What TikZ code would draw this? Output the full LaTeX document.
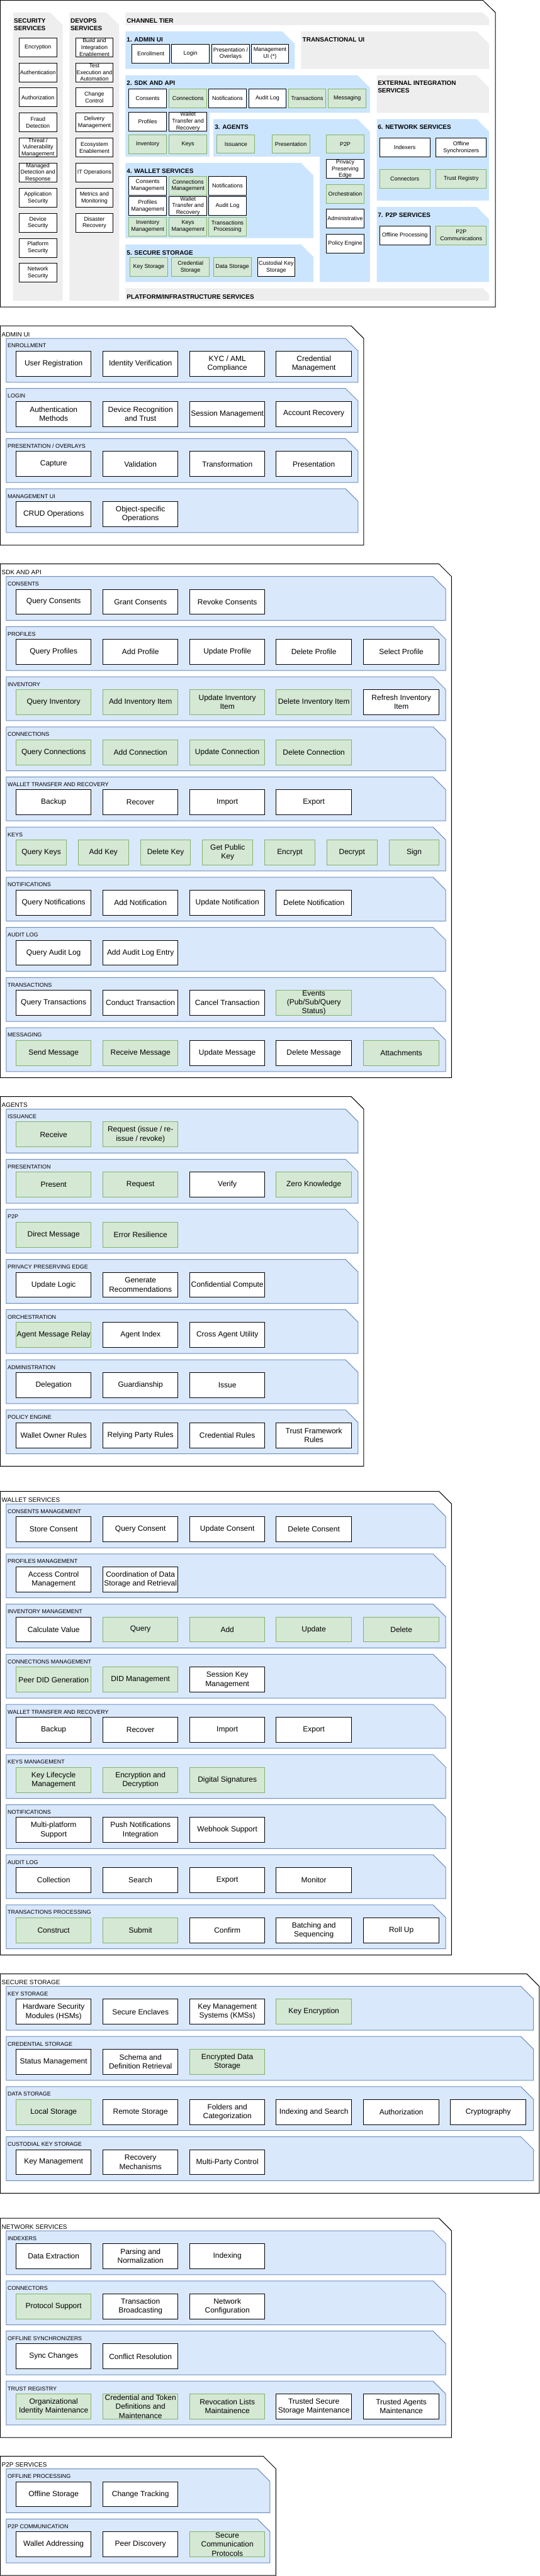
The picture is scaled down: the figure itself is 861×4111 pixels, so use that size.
\documentclass[tikz,border=0pt]{standalone}
\usepackage{fontspec}
\setmainfont{Liberation Sans}
\definecolor{tier gray}{HTML}{EEEEEE}
\definecolor{tier blue}{HTML}{CCE5FF}
\definecolor{group fill}{HTML}{DAE8FC}
\definecolor{group line}{HTML}{6C8EBF}
\definecolor{green fill}{HTML}{D5E8D4}
\definecolor{green line}{HTML}{82B366}
\tikzset{
    x={1pt},
    y={-1pt},
    tier background/.style={
        fill={#1},
        draw=none,
    },
    tier background/.default={tier gray},
    tier title/.style={
        font={\bfseries\fontsize{10}{12}\selectfont},
        anchor=north west,
        align=left,
        inner sep=0pt,
    },
    tile/.style={
        draw=black, fill=white,
        line width={1pt},
        anchor=north west,
        align=center,
        inner xsep=1pt, inner ysep=0pt,
        minimum width={60},
        minimum height={30},
        font={\fontsize{9}{10.8}\selectfont},
    },
    green tile/.style={
        tile, fill=green fill, draw=green line,
    },
    wide tile/.style={
        tile, minimum width={80},
    },
    wide green tile/.style={
        green tile, minimum width={80},
    },
    section frame/.style={
        draw=black, fill=white,
        line width={1pt},
    },
    section label/.style={
        anchor=base west,
        inner sep=0pt,
        font={\fontsize{10}{12}\selectfont},
    },
    group/.style={
        fill=group fill, draw=group line,
        line width={1pt},
    },
    group label/.style={
        anchor=base west,
        inner sep=0pt,
        font={\fontsize{9}{10.8}\selectfont},
    },
    item/.style={
        tile,
        minimum width={120},
        minimum height={40},
        font={\fontsize{12}{14.4}\selectfont},
    },
    green item/.style={
        item, fill=green fill, draw=green line,
    },
    key item/.style={
        green item, minimum width={80},
    },
}

\begin{document}
\begin{tikzpicture}
\useasboundingbox (0,0) rectangle (861,4111);
% overview
\path[section frame] (0.5,0.5) -- (770,0.5) -- (790,20) -- (790,490) -- (0.5,490) -- cycle;
\path[tier background] (20.7,20) -- (80,20) -- (100,40) -- (100,480) -- (20.7,480) -- cycle;
\node[tier title] (sec-title) at (22,29.3) {SECURITY\\SERVICES};
\node[tile] (sec-enc) at (30,60) {Encryption};
\node[tile] (sec-authn) at (30,100) {Authentication};
\node[tile] (sec-authz) at (30,140) {Authorization};
\node[tile] (sec-fraud) at (30,180) {Fraud\\Detection};
\node[tile] (sec-threat) at (30,220) {Threat /\\Vulnerability\\Management};
\node[tile] (sec-mdr) at (30,260) {Managed\\Detection and\\Response};
\node[tile] (sec-app) at (30,300) {Application\\Security};
\node[tile] (sec-device) at (30,340) {Device\\Security};
\node[tile] (sec-platform) at (30,380) {Platform\\Security};
\node[tile] (sec-network) at (30,420) {Network\\Security};
\path[tier background] (110.7,20) -- (170,20) -- (190,40) -- (190,480) -- (110.7,480) -- cycle;
\node[tier title] (dev-title) at (112.3,29.3) {DEVOPS\\SERVICES};
\node[tile] (dev-build) at (120,60) {Build and\\Integration\\Enablement};
\node[tile] (dev-test) at (120,100) {Test\\Execution and\\Automation};
\node[tile] (dev-change) at (120,140) {Change\\Control};
\node[tile] (dev-delivery) at (120,180) {Delivery\\Management};
\node[tile] (dev-eco) at (120,220) {Ecosystem\\Enablement};
\node[tile] (dev-itops) at (120,260) {IT Operations};
\node[tile] (dev-metrics) at (120,300) {Metrics and\\Monitoring};
\node[tile] (dev-dr) at (120,340) {Disaster\\Recovery};
\path[tier background] (200,20) -- (770,20) -- (780,30) -- (780,40) -- (200,40) -- cycle;
\node[tier title] (channel-title) at (202,29.3) {CHANNEL TIER};
% 1. admin ui
\path[tier background={tier blue}] (200,50) -- (450,50) -- (470,70) -- (470,110) -- (200,110) -- cycle;
\node[tier title] (ov-admin-title) at (202,59.3) {1. ADMIN UI};
\node[tile] (ov-enroll) at (210,70) {Enrollment};
\node[tile] (ov-login) at (273.3,70) {Login};
\node[tile] (ov-overlays) at (337.3,70) {Presentation /\\Overlays};
\node[tile] (ov-mgmt-ui) at (400,70) {Management\\UI (*)};
\path[tier background] (480,50) -- (760,50) -- (780,70) -- (780,110) -- (480,110) -- cycle;
\node[tier title] (trans-ui-title) at (482.3,59.3) {TRANSACTIONAL UI};
% 2. sdk and api
\path[tier background={tier blue}] (200,120) -- (570,120) -- (590,140) -- (590,180) -- (334,180) -- (334,250) -- (200,250) -- cycle;
\node[tier title] (ov-sdk-title) at (202,129.3) {2. SDK AND API};
\node[tile] (ov-sdk-consents) at (205,141.7) {Consents};
\node[green tile] (ov-sdk-connections) at (269.3,141.7) {Connections};
\node[tile] (ov-sdk-notifications) at (332.3,141.7) {Notifications};
\node[tile] (ov-sdk-audit) at (396,141.7) {Audit Log};
\node[green tile] (ov-sdk-transactions) at (459.3,141.7) {Transactions};
\node[green tile] (ov-sdk-messaging) at (523.3,141.7) {Messaging};
\node[tile] (ov-sdk-profiles) at (205,178.3) {Profiles};
\node[tile] (ov-sdk-transfer) at (269.3,178.3) {Wallet\\Transfer and\\Recovery};
\node[green tile] (ov-sdk-inventory) at (205,215) {Inventory};
\node[green tile] (ov-sdk-keys) at (269.3,215) {Keys};
\path[tier background] (600.7,120) -- (760,120) -- (780,140) -- (780,180) -- (600.7,180) -- cycle;
\node[tier title] (ext-title) at (602.3,129.3) {EXTERNAL INTEGRATION\\SERVICES};
% 3. agents
\path[tier background={tier blue}] (340,190) -- (570,190) -- (590,210) -- (590,450) -- (510,450) -- (510,250) -- (340,250) -- cycle;
\node[tier title] (ov-agents-title) at (342.3,199.3) {3. AGENTS};
\node[green tile] (ov-issuance) at (345.7,214.3) {Issuance};
\node[green tile] (ov-presentation) at (433.3,214.3) {Presentation};
\node[green tile] (ov-p2p) at (520,214.3) {P2P};
\node[tile] (ov-edge) at (520,254.3) {Privacy\\Preserving\\Edge};
\node[green tile] (ov-orchestration) at (520,294.3) {Orchestration};
\node[tile] (ov-administrative) at (520,333.3) {Administrative};
\node[tile] (ov-policy) at (520,373.3) {Policy Engine};
% 6. network services
\path[tier background={tier blue}] (600.7,190) -- (760,190) -- (780,210) -- (780,320) -- (600.7,320) -- cycle;
\node[tier title] (ov-network-title) at (602.3,199.3) {6. NETWORK SERVICES};
\node[wide tile] (ov-indexers) at (605,220) {Indexers};
\node[wide tile] (ov-offline-sync) at (695,220) {Offline\\Synchronizers};
\node[wide green tile] (ov-connectors) at (605,270) {Connectors};
\node[wide green tile] (ov-trust) at (695,270) {Trust Registry};
% 4. wallet services
\path[tier background={tier blue}] (200,260) -- (480,260) -- (500,280) -- (500,380) -- (200,380) -- cycle;
\node[tier title] (ov-wallet-title) at (202,269.3) {4. WALLET SERVICES};
\node[tile] (ov-w-consents) at (205,280.7) {Consents\\Management};
\node[green tile] (ov-w-connections) at (269.3,280.7) {Connections\\Management};
\node[tile] (ov-w-notifications) at (332.3,280.7) {Notifications};
\node[tile] (ov-w-profiles) at (205,313.3) {Profiles\\Management};
\node[tile] (ov-w-transfer) at (269.3,313.3) {Wallet\\Transfer and\\Recovery};
\node[tile] (ov-w-audit) at (332.3,313.3) {Audit Log};
\node[green tile] (ov-w-inventory) at (205,346) {Inventory\\Management};
\node[green tile] (ov-w-keys) at (269.3,346) {Keys\\Management};
\node[green tile] (ov-w-transactions) at (332.3,346) {Transactions\\Processing};
% 7. p2p services
\path[tier background={tier blue}] (600.7,330) -- (760,330) -- (780,350) -- (780,450) -- (600.7,450) -- cycle;
\node[tier title] (ov-p2p-title) at (602.3,339.3) {7. P2P SERVICES};
\node[wide tile] (ov-offline-proc) at (605,360) {Offline Processing};
\node[wide green tile] (ov-p2p-comm) at (695,360) {P2P\\Communications};
% 5. secure storage
\path[tier background={tier blue}] (200,390) -- (480,390) -- (500,410) -- (500,450) -- (200,450) -- cycle;
\node[tier title] (ov-storage-title) at (202,399.3) {5. SECURE STORAGE};
\node[green tile] (ov-key-storage) at (206.7,410.7) {Key Storage};
\node[green tile] (ov-cred-storage) at (273.3,410.7) {Credential\\Storage};
\node[green tile] (ov-data-storage) at (340,410.7) {Data Storage};
\node[tile] (ov-custodial) at (410,410.7) {Custodial Key\\Storage};
\path[tier background] (200,460) -- (770,460) -- (780,470) -- (780,480) -- (200,480) -- cycle;
\node[tier title] (platform-title) at (202,469.3) {PLATFORM/INFRASTRUCTURE SERVICES};

% admin ui
\path[section frame] (0.5,520) -- (560,520) -- (580,540) -- (580,870) -- (0.5,870) -- cycle;
\node[section label] (admin-label) at (2.5,537) {ADMIN UI};
\path[group] (10,540) -- (551,540) -- (571,560) -- (571,610) -- (10,610) -- cycle;
\node[group label] (admin-enroll-label) at (12,555) {ENROLLMENT};
\node[item] (admin-registration) at (25,560) {User Registration};
\node[item] (admin-identity) at (163.5,560) {Identity Verification};
\node[item] (admin-kyc) at (302,560) {KYC / AML\\Compliance};
\node[item] (admin-credential) at (440,560) {Credential\\Management};
\path[group] (10,620) -- (551,620) -- (571,640) -- (571,690) -- (10,690) -- cycle;
\node[group label] (admin-login-label) at (12,635) {LOGIN};
\node[item] (admin-auth-methods) at (25,640) {Authentication\\Methods};
\node[item] (admin-device) at (163.5,640) {Device Recognition\\and Trust};
\node[item] (admin-session) at (302,640) {Session Management};
\node[item] (admin-recovery) at (440,640) {Account Recovery};
\path[group] (10,700) -- (551,700) -- (571,720) -- (571,770) -- (10,770) -- cycle;
\node[group label] (admin-overlays-label) at (12,715) {PRESENTATION / OVERLAYS};
\node[item] (admin-capture) at (25,720) {Capture};
\node[item] (admin-validation) at (163.5,720) {Validation};
\node[item] (admin-transformation) at (302,720) {Transformation};
\node[item] (admin-presentation) at (440,720) {Presentation};
\path[group] (10,780) -- (551,780) -- (571,800) -- (571,850) -- (10,850) -- cycle;
\node[group label] (admin-mgmt-label) at (12,795) {MANAGEMENT UI};
\node[item] (admin-crud) at (25,800) {CRUD Operations};
\node[item] (admin-object) at (163.5,800) {Object-specific\\Operations};

% sdk and api
\path[section frame] (0.5,900) -- (700,900) -- (720,920) -- (720,1720) -- (0.5,1720) -- cycle;
\node[section label] (sdk-label) at (2.5,917) {SDK AND API};
\path[group] (10,920) -- (690.6,920) -- (710.6,940) -- (710.6,990) -- (10,990) -- cycle;
\node[group label] (sdk-consents-label) at (12,935) {CONSENTS};
\node[item] (sdk-query-consents) at (25,940) {Query Consents};
\node[item] (sdk-grant-consents) at (163.5,940) {Grant Consents};
\node[item] (sdk-revoke-consents) at (302,940) {Revoke Consents};
\path[group] (10,1000) -- (690.6,1000) -- (710.6,1020) -- (710.6,1070) -- (10,1070) -- cycle;
\node[group label] (sdk-profiles-label) at (12,1015) {PROFILES};
\node[item] (sdk-query-profiles) at (25,1020) {Query Profiles};
\node[item] (sdk-add-profile) at (163.5,1020) {Add Profile};
\node[item] (sdk-update-profile) at (302,1020) {Update Profile};
\node[item] (sdk-delete-profile) at (440,1020) {Delete Profile};
\node[item] (sdk-select-profile) at (579.5,1020) {Select Profile};
\path[group] (10,1080) -- (690.6,1080) -- (710.6,1100) -- (710.6,1150) -- (10,1150) -- cycle;
\node[group label] (sdk-inventory-label) at (12,1095) {INVENTORY};
\node[green item] (sdk-query-inventory) at (25,1100) {Query Inventory};
\node[green item] (sdk-add-item) at (163.5,1100) {Add Inventory Item};
\node[green item] (sdk-update-item) at (302,1100) {Update Inventory\\Item};
\node[green item] (sdk-delete-item) at (440,1100) {Delete Inventory Item};
\node[item] (sdk-refresh-item) at (579.5,1100) {Refresh Inventory\\Item};
\path[group] (10,1160) -- (690.6,1160) -- (710.6,1180) -- (710.6,1230) -- (10,1230) -- cycle;
\node[group label] (sdk-connections-label) at (12,1175) {CONNECTIONS};
\node[green item] (sdk-query-connections) at (25,1180) {Query Connections};
\node[green item] (sdk-add-connection) at (163.5,1180) {Add Connection};
\node[green item] (sdk-update-connection) at (302,1180) {Update Connection};
\node[green item] (sdk-delete-connection) at (440,1180) {Delete Connection};
\path[group] (10,1240) -- (690.6,1240) -- (710.6,1260) -- (710.6,1310) -- (10,1310) -- cycle;
\node[group label] (sdk-transfer-label) at (12,1255) {WALLET TRANSFER AND RECOVERY};
\node[item] (sdk-backup) at (25,1260) {Backup};
\node[item] (sdk-recover) at (163.5,1260) {Recover};
\node[item] (sdk-import) at (302,1260) {Import};
\node[item] (sdk-export) at (440,1260) {Export};
\path[group] (10,1320) -- (690.6,1320) -- (710.6,1340) -- (710.6,1390) -- (10,1390) -- cycle;
\node[group label] (sdk-keys-label) at (12,1335) {KEYS};
\node[key item] (sdk-query-keys) at (25.3,1340) {Query Keys};
\node[key item] (sdk-add-key) at (124.4,1340) {Add Key};
\node[key item] (sdk-delete-key) at (223.5,1340) {Delete Key};
\node[key item] (sdk-public-key) at (322.6,1340) {Get Public\\Key};
\node[key item] (sdk-encrypt) at (421.7,1340) {Encrypt};
\node[key item] (sdk-decrypt) at (520.8,1340) {Decrypt};
\node[key item] (sdk-sign) at (619.9,1340) {Sign};
\path[group] (10,1400) -- (690.6,1400) -- (710.6,1420) -- (710.6,1470) -- (10,1470) -- cycle;
\node[group label] (sdk-notifications-label) at (12,1415) {NOTIFICATIONS};
\node[item] (sdk-query-notifications) at (25,1420) {Query Notifications};
\node[item] (sdk-add-notification) at (163.5,1420) {Add Notification};
\node[item] (sdk-update-notification) at (302,1420) {Update Notification};
\node[item] (sdk-delete-notification) at (440,1420) {Delete Notification};
\path[group] (10,1480) -- (690.6,1480) -- (710.6,1500) -- (710.6,1550) -- (10,1550) -- cycle;
\node[group label] (sdk-audit-label) at (12,1495) {AUDIT LOG};
\node[item] (sdk-query-audit) at (25,1500) {Query Audit Log};
\node[item] (sdk-add-audit) at (163.5,1500) {Add Audit Log Entry};
\path[group] (10,1560) -- (690.6,1560) -- (710.6,1580) -- (710.6,1630) -- (10,1630) -- cycle;
\node[group label] (sdk-transactions-label) at (12,1575) {TRANSACTIONS};
\node[item] (sdk-query-transactions) at (25,1580) {Query Transactions};
\node[item] (sdk-conduct) at (163.5,1580) {Conduct Transaction};
\node[item] (sdk-cancel) at (302,1580) {Cancel Transaction};
\node[green item] (sdk-events) at (440,1580) {Events\\(Pub/Sub/Query\\Status)};
\path[group] (10,1640) -- (690.6,1640) -- (710.6,1660) -- (710.6,1710) -- (10,1710) -- cycle;
\node[group label] (sdk-messaging-label) at (12,1655) {MESSAGING};
\node[green item] (sdk-send) at (25,1660) {Send Message};
\node[green item] (sdk-receive) at (163.5,1660) {Receive Message};
\node[item] (sdk-update-message) at (302,1660) {Update Message};
\node[item] (sdk-delete-message) at (440,1660) {Delete Message};
\node[green item] (sdk-attachments) at (579.5,1660) {Attachments};

% agents
\path[section frame] (0.5,1750) -- (560,1750) -- (580,1770) -- (580,2340) -- (0.5,2340) -- cycle;
\node[section label] (agents-label) at (2.5,1767) {AGENTS};
\path[group] (10,1770) -- (551,1770) -- (571,1790) -- (571,1840) -- (10,1840) -- cycle;
\node[group label] (agents-issuance-label) at (12,1785) {ISSUANCE};
\node[green item] (agents-receive) at (25,1790) {Receive};
\node[green item] (agents-request-issue) at (163.5,1790) {Request (issue / re-\\issue / revoke)};
\path[group] (10,1850) -- (551,1850) -- (571,1870) -- (571,1920) -- (10,1920) -- cycle;
\node[group label] (agents-presentation-label) at (12,1865) {PRESENTATION};
\node[green item] (agents-present) at (25,1870) {Present};
\node[green item] (agents-request) at (163.5,1870) {Request};
\node[item] (agents-verify) at (302,1870) {Verify};
\node[green item] (agents-zk) at (440,1870) {Zero Knowledge};
\path[group] (10,1930) -- (551,1930) -- (571,1950) -- (571,2000) -- (10,2000) -- cycle;
\node[group label] (agents-p2p-label) at (12,1945) {P2P};
\node[green item] (agents-direct) at (25,1950) {Direct Message};
\node[green item] (agents-resilience) at (163.5,1950) {Error Resilience};
\path[group] (10,2010) -- (551,2010) -- (571,2030) -- (571,2080) -- (10,2080) -- cycle;
\node[group label] (agents-edge-label) at (12,2025) {PRIVACY PRESERVING EDGE};
\node[item] (agents-update-logic) at (25,2030) {Update Logic};
\node[item] (agents-recommend) at (163.5,2030) {Generate\\Recommendations};
\node[item] (agents-compute) at (302,2030) {Confidential Compute};
\path[group] (10,2090) -- (551,2090) -- (571,2110) -- (571,2160) -- (10,2160) -- cycle;
\node[group label] (agents-orchestration-label) at (12,2105) {ORCHESTRATION};
\node[green item] (agents-relay) at (25,2110) {Agent Message Relay};
\node[item] (agents-index) at (163.5,2110) {Agent Index};
\node[item] (agents-utility) at (302,2110) {Cross Agent Utility};
\path[group] (10,2170) -- (551,2170) -- (571,2190) -- (571,2240) -- (10,2240) -- cycle;
\node[group label] (agents-admin-label) at (12,2185) {ADMINISTRATION};
\node[item] (agents-delegation) at (25,2190) {Delegation};
\node[item] (agents-guardianship) at (163.5,2190) {Guardianship};
\node[item] (agents-issue) at (302,2190) {Issue};
\path[group] (10,2250) -- (551,2250) -- (571,2270) -- (571,2320) -- (10,2320) -- cycle;
\node[group label] (agents-policy-label) at (12,2265) {POLICY ENGINE};
\node[item] (agents-owner-rules) at (25,2270) {Wallet Owner Rules};
\node[item] (agents-rp-rules) at (163.5,2270) {Relying Party Rules};
\node[item] (agents-cred-rules) at (302,2270) {Credential Rules};
\node[item] (agents-tf-rules) at (440,2270) {Trust Framework\\Rules};

% wallet services
\path[section frame] (0.5,2380) -- (700,2380) -- (720,2400) -- (720,3120) -- (0.5,3120) -- cycle;
\node[section label] (wallet-label) at (2.5,2397) {WALLET SERVICES};
\path[group] (10,2400) -- (690.6,2400) -- (710.6,2420) -- (710.6,2470) -- (10,2470) -- cycle;
\node[group label] (wallet-consents-label) at (12,2415) {CONSENTS MANAGEMENT};
\node[item] (wallet-store-consent) at (25,2420) {Store Consent};
\node[item] (wallet-query-consent) at (163.5,2420) {Query Consent};
\node[item] (wallet-update-consent) at (302,2420) {Update Consent};
\node[item] (wallet-delete-consent) at (440,2420) {Delete Consent};
\path[group] (10,2480) -- (690.6,2480) -- (710.6,2500) -- (710.6,2550) -- (10,2550) -- cycle;
\node[group label] (wallet-profiles-label) at (12,2495) {PROFILES MANAGEMENT};
\node[item] (wallet-access) at (25,2500) {Access Control\\Management};
\node[item] (wallet-coordination) at (163.5,2500) {Coordination of Data\\Storage and Retrieval};
\path[group] (10,2560) -- (690.6,2560) -- (710.6,2580) -- (710.6,2630) -- (10,2630) -- cycle;
\node[group label] (wallet-inventory-label) at (12,2575) {INVENTORY MANAGEMENT};
\node[item] (wallet-value) at (25,2580) {Calculate Value};
\node[green item] (wallet-query) at (163.5,2580) {Query};
\node[green item] (wallet-add) at (302,2580) {Add};
\node[green item] (wallet-update) at (440,2580) {Update};
\node[green item] (wallet-delete) at (579.5,2580) {Delete};
\path[group] (10,2640) -- (690.6,2640) -- (710.6,2660) -- (710.6,2710) -- (10,2710) -- cycle;
\node[group label] (wallet-connections-label) at (12,2655) {CONNECTIONS MANAGEMENT};
\node[green item] (wallet-peer-did) at (25,2660) {Peer DID Generation};
\node[green item] (wallet-did) at (163.5,2660) {DID Management};
\node[item] (wallet-session-key) at (302,2660) {Session Key\\Management};
\path[group] (10,2720) -- (690.6,2720) -- (710.6,2740) -- (710.6,2790) -- (10,2790) -- cycle;
\node[group label] (wallet-transfer-label) at (12,2735) {WALLET TRANSFER AND RECOVERY};
\node[item] (wallet-backup) at (25,2740) {Backup};
\node[item] (wallet-recover) at (163.5,2740) {Recover};
\node[item] (wallet-import) at (302,2740) {Import};
\node[item] (wallet-export) at (440,2740) {Export};
\path[group] (10,2800) -- (690.6,2800) -- (710.6,2820) -- (710.6,2870) -- (10,2870) -- cycle;
\node[group label] (wallet-keys-label) at (12,2815) {KEYS MANAGEMENT};
\node[green item] (wallet-lifecycle) at (25,2820) {Key Lifecycle\\Management};
\node[green item] (wallet-encryption) at (163.5,2820) {Encryption and\\Decryption};
\node[green item] (wallet-signatures) at (302,2820) {Digital Signatures};
\path[group] (10,2880) -- (690.6,2880) -- (710.6,2900) -- (710.6,2950) -- (10,2950) -- cycle;
\node[group label] (wallet-notifications-label) at (12,2895) {NOTIFICATIONS};
\node[item] (wallet-multiplatform) at (25,2900) {Multi-platform\\Support};
\node[item] (wallet-push) at (163.5,2900) {Push Notifications\\Integration};
\node[item] (wallet-webhook) at (302,2900) {Webhook Support};
\path[group] (10,2960) -- (690.6,2960) -- (710.6,2980) -- (710.6,3030) -- (10,3030) -- cycle;
\node[group label] (wallet-audit-label) at (12,2975) {AUDIT LOG};
\node[item] (wallet-collection) at (25,2980) {Collection};
\node[item] (wallet-search) at (163.5,2980) {Search};
\node[item] (wallet-audit-export) at (302,2980) {Export};
\node[item] (wallet-monitor) at (440,2980) {Monitor};
\path[group] (10,3040) -- (690.6,3040) -- (710.6,3060) -- (710.6,3110) -- (10,3110) -- cycle;
\node[group label] (wallet-transactions-label) at (12,3055) {TRANSACTIONS PROCESSING};
\node[green item] (wallet-construct) at (25,3060) {Construct};
\node[green item] (wallet-submit) at (163.5,3060) {Submit};
\node[item] (wallet-confirm) at (302,3060) {Confirm};
\node[item] (wallet-batching) at (440,3060) {Batching and\\Sequencing};
\node[item] (wallet-rollup) at (579.5,3060) {Roll Up};

% secure storage
\path[section frame] (0.5,3150) -- (840,3150) -- (860,3170) -- (860,3500) -- (0.5,3500) -- cycle;
\node[section label] (storage-label) at (2.5,3167) {SECURE STORAGE};
\path[group] (10,3170) -- (830.6,3170) -- (850.6,3190) -- (850.6,3240) -- (10,3240) -- cycle;
\node[group label] (storage-key-label) at (12,3185) {KEY STORAGE};
\node[item] (storage-hsm) at (25,3190) {Hardware Security\\Modules (HSMs)};
\node[item] (storage-enclaves) at (163.5,3190) {Secure Enclaves};
\node[item] (storage-kms) at (302,3190) {Key Management\\Systems (KMSs)};
\node[green item] (storage-key-encryption) at (440,3190) {Key Encryption};
\path[group] (10,3250) -- (830.6,3250) -- (850.6,3270) -- (850.6,3320) -- (10,3320) -- cycle;
\node[group label] (storage-cred-label) at (12,3265) {CREDENTIAL STORAGE};
\node[item] (storage-status) at (25,3270) {Status Management};
\node[item] (storage-schema) at (163.5,3270) {Schema and\\Definition Retrieval};
\node[green item] (storage-encrypted) at (302,3270) {Encrypted Data\\Storage};
\path[group] (10,3330) -- (830.6,3330) -- (850.6,3350) -- (850.6,3400) -- (10,3400) -- cycle;
\node[group label] (storage-data-label) at (12,3345) {DATA STORAGE};
\node[green item] (storage-local) at (25,3350) {Local Storage};
\node[item] (storage-remote) at (163.5,3350) {Remote Storage};
\node[item] (storage-folders) at (302,3350) {Folders and\\Categorization};
\node[item] (storage-indexing) at (440,3350) {Indexing and Search};
\node[item] (storage-authorization) at (579.5,3350) {Authorization};
\node[item] (storage-crypto) at (718,3350) {Cryptography};
\path[group] (10,3410) -- (830.6,3410) -- (850.6,3430) -- (850.6,3480) -- (10,3480) -- cycle;
\node[group label] (storage-custodial-label) at (12,3425) {CUSTODIAL KEY STORAGE};
\node[item] (storage-key-mgmt) at (25,3430) {Key Management};
\node[item] (storage-recovery) at (163.5,3430) {Recovery\\Mechanisms};
\node[item] (storage-multiparty) at (302,3430) {Multi-Party Control};

% network services
\path[section frame] (0.5,3540) -- (700,3540) -- (720,3560) -- (720,3890) -- (0.5,3890) -- cycle;
\node[section label] (network-label) at (2.5,3557) {NETWORK SERVICES};
\path[group] (10,3560) -- (690.6,3560) -- (710.6,3580) -- (710.6,3630) -- (10,3630) -- cycle;
\node[group label] (network-indexers-label) at (12,3575) {INDEXERS};
\node[item] (network-extraction) at (25,3580) {Data Extraction};
\node[item] (network-parsing) at (163.5,3580) {Parsing and\\Normalization};
\node[item] (network-indexing) at (302,3580) {Indexing};
\path[group] (10,3640) -- (690.6,3640) -- (710.6,3660) -- (710.6,3710) -- (10,3710) -- cycle;
\node[group label] (network-connectors-label) at (12,3655) {CONNECTORS};
\node[green item] (network-protocol) at (25,3660) {Protocol Support};
\node[item] (network-broadcast) at (163.5,3660) {Transaction\\Broadcasting};
\node[item] (network-config) at (302,3660) {Network\\Configuration};
\path[group] (10,3720) -- (690.6,3720) -- (710.6,3740) -- (710.6,3790) -- (10,3790) -- cycle;
\node[group label] (network-sync-label) at (12,3735) {OFFLINE SYNCHRONIZERS};
\node[item] (network-sync) at (25,3740) {Sync Changes};
\node[item] (network-conflict) at (163.5,3740) {Conflict Resolution};
\path[group] (10,3800) -- (690.6,3800) -- (710.6,3820) -- (710.6,3870) -- (10,3870) -- cycle;
\node[group label] (network-trust-label) at (12,3815) {TRUST REGISTRY};
\node[green item] (network-org) at (25,3820) {Organizational\\Identity Maintenance};
\node[green item] (network-definitions) at (163.5,3820) {Credential and Token\\Definitions and\\Maintenance};
\node[green item] (network-revocation) at (302,3820) {Revocation Lists\\Maintainence};
\node[item] (network-secure-storage) at (440,3820) {Trusted Secure\\Storage Maintenance};
\node[item] (network-agents) at (579.5,3820) {Trusted Agents\\Maintenance};

% p2p services
\path[section frame] (0.5,3920) -- (420,3920) -- (440,3940) -- (440,4110) -- (0.5,4110) -- cycle;
\node[section label] (p2p-label) at (2.5,3937) {P2P SERVICES};
\path[group] (10,3940) -- (410.5,3940) -- (430.5,3960) -- (430.5,4010) -- (10,4010) -- cycle;
\node[group label] (p2p-offline-label) at (12,3955) {OFFLINE PROCESSING};
\node[item] (p2p-offline-storage) at (25,3960) {Offline Storage};
\node[item] (p2p-tracking) at (163.5,3960) {Change Tracking};
\path[group] (10,4020) -- (410.5,4020) -- (430.5,4040) -- (430.5,4090) -- (10,4090) -- cycle;
\node[group label] (p2p-comm-label) at (12,4035) {P2P COMMUNICATION};
\node[item] (p2p-addressing) at (25,4040) {Wallet Addressing};
\node[item] (p2p-discovery) at (163.5,4040) {Peer Discovery};
\node[green item] (p2p-secure) at (302,4040) {Secure\\Communication\\Protocols};
\end{tikzpicture}
\end{document}
